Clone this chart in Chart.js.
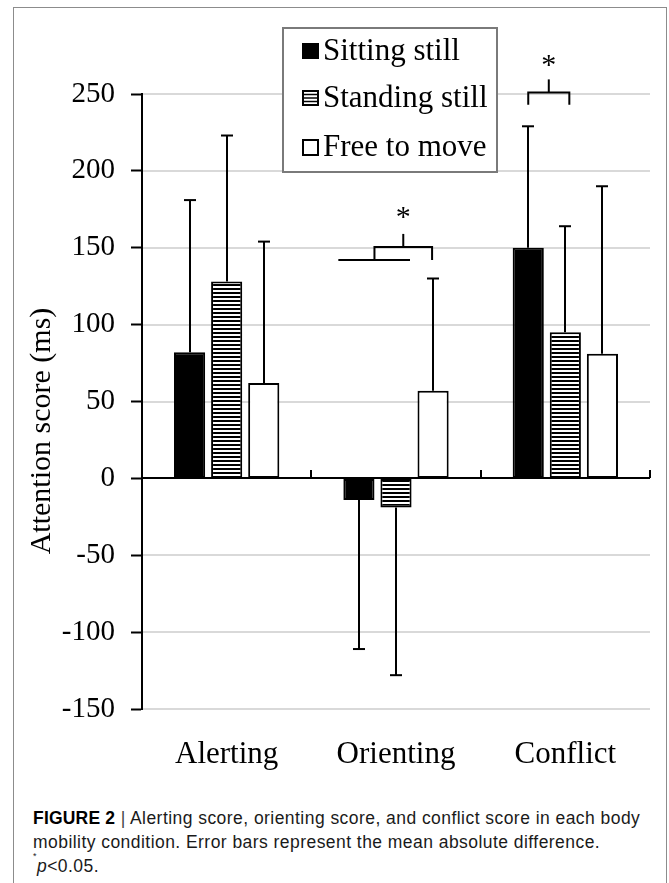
<!DOCTYPE html>
<html><head><meta charset="utf-8">
<script src="https://cdn.jsdelivr.net/npm/chart.js@4"></script>
<style>
html,body{margin:0;padding:0;background:#fff;width:669px;height:883px;overflow:hidden;position:relative}
#frame{position:absolute;left:13px;top:7px;width:654px;height:900px;border:1px solid #8c8c8c;border-bottom:none;box-sizing:border-box}
#wrap{position:absolute;left:0;top:0;width:669px;height:783px}
#cap{position:absolute;left:33px;top:806px;width:630px;font-family:"Liberation Sans",Arial,sans-serif;font-size:17.5px;letter-spacing:0.45px;line-height:24px;color:#1a1a1a;white-space:nowrap}
#cap b{font-weight:bold;color:#000;letter-spacing:0.2px}
#cap .bar{color:#444}
#cap sup{font-size:9px;vertical-align:top;line-height:0;position:relative;top:2px}
</style></head>
<body>
<div id="frame"></div>
<div id="wrap"><canvas id="c" width="669" height="783"></canvas></div>
<div id="cap"><b>FIGURE 2</b> <span class="bar">|</span> Alerting score, orienting score, and conflict score in each body<br>mobility condition. Error bars represent the mean absolute difference.<br><sup>*</sup><i>p</i>&lt;0.05.</div>
<script>
// ---- data ----
const categories = ['Alerting', 'Orienting', 'Conflict'];
const seriesNames = ['Sitting still', 'Standing still', 'Free to move'];
const sittingMean = [82, -14, 150];
const standingMean = [128, -19, 95];
const freeMean = [62, 57, 81];
const sittingErr = [99, 97, 79];
const standingErr = [95, 109, 69];
const freeErr = [92, 73, 109];
const yMin = -150, yMax = 250, yStep = 50;
const yTitle = 'Attention score (ms)';
const sigMark = '*';
// significance bracket levels (data units)
const orientBracket = [142, 150.5, 159, 173];   // lower line, upper line, tick top, star
const conflictBracket = [243, 251, 259.5, 272];  // leg bottom, line, tick top, star

const SERIF = '"Liberation Serif","Times New Roman",serif';
const canvas = document.getElementById('c');
const ctx0 = canvas.getContext('2d');
function stripePattern(){
  const p = document.createElement('canvas'); p.width = 4; p.height = 4;
  const g = p.getContext('2d');
  g.fillStyle = '#fff'; g.fillRect(0,0,4,4);
  g.fillStyle = '#000'; g.fillRect(0,0,4,2);
  return ctx0.createPattern(p, 'repeat');
}
const stripes = stripePattern();
const means = [sittingMean, standingMean, freeMean];
const errs = [sittingErr, standingErr, freeErr];
const fills = ['#000', stripes, '#fff'];

function ln(ctx,x1,y1,x2,y2){ctx.beginPath();ctx.moveTo(x1,y1);ctx.lineTo(x2,y2);ctx.stroke();}

const gridPlugin = {
  id: 'gridPlugin',
  beforeDatasetsDraw(chart){
    const ctx = chart.ctx, ys = chart.scales.y, ca = chart.chartArea;
    ctx.save();
    ctx.strokeStyle = '#d9d9d9'; ctx.lineWidth = 2;
    ys.ticks.forEach(t => {
      const py = Math.round(ys.getPixelForValue(t.value));
      ln(ctx, ca.left + 1, py, ca.right, py);
    });
    ctx.restore();
  }
};

const overlay = {
  id: 'overlay',
  afterDatasetsDraw(chart){
    const ctx = chart.ctx, xs = chart.scales.x, ys = chart.scales.y, ca = chart.chartArea;
    ctx.save();
    ctx.strokeStyle = '#000'; ctx.lineWidth = 2; ctx.lineCap = 'butt';
    // zero line
    const y0 = Math.round(ys.getPixelForValue(0));
    ln(ctx, ca.left, y0, ca.right, y0);
    const half = (xs.getPixelForValue(1) - xs.getPixelForValue(0)) / 2;
    for (let i = 0; i <= categories.length; i++) {
      const px = Math.round(xs.getPixelForValue(0) - half + i * 2 * half);
      ln(ctx, px, y0, px, y0 - 8);
    }
    // error bars
    for (let d = 0; d < 3; d++) {
      const meta = chart.getDatasetMeta(d);
      meta.data.forEach((el, j) => {
        const v = means[d][j];
        const end = v + Math.sign(v) * errs[d][j];
        const ye = ys.getPixelForValue(end);
        const x = Math.round(el.x);
        ln(ctx, x, el.y, x, ye);
        ln(ctx, x - 6, ye, x + 6, ye);
      });
    }
    // brackets
    const m0 = chart.getDatasetMeta(0).data, m1 = chart.getDatasetMeta(1).data, m2 = chart.getDatasetMeta(2).data;
    ctx.font = '30px ' + SERIF; ctx.fillStyle = '#000'; ctx.textAlign = 'center'; ctx.textBaseline = 'alphabetic';
    {
      const s = m0[1], t = m1[1], f = m2[1];
      const yl = ys.getPixelForValue(orientBracket[0]);
      const yu = ys.getPixelForValue(orientBracket[1]);
      const yt = ys.getPixelForValue(orientBracket[2]);
      const ystar = ys.getPixelForValue(orientBracket[3]);
      ln(ctx, s.x - s.width/2 - 5, yl, t.x + 14, yl);
      const xl = (s.x + t.x)/2 - 3, xr = f.x - 1;
      ctx.beginPath(); ctx.moveTo(xl, yl); ctx.lineTo(xl, yu); ctx.lineTo(xr, yu); ctx.lineTo(xr, yl); ctx.stroke();
      const xc = (xl + xr)/2;
      ln(ctx, xc, yu, xc, yt);
      ctx.fillText(sigMark, xc, ystar + 14);
    }
    {
      const s = m0[2], t = m1[2];
      const yb = ys.getPixelForValue(conflictBracket[0]);
      const yu = ys.getPixelForValue(conflictBracket[1]);
      const yt = ys.getPixelForValue(conflictBracket[2]);
      const ystar = ys.getPixelForValue(conflictBracket[3]);
      const xl = s.x, xr = t.x + 4;
      ctx.beginPath(); ctx.moveTo(xl, yb); ctx.lineTo(xl, yu); ctx.lineTo(xr, yu); ctx.lineTo(xr, yb); ctx.stroke();
      const xc = (xl + xr)/2;
      ln(ctx, xc, yu, xc, yt);
      ctx.fillText(sigMark, xc, ystar + 14);
    }
    // legend
    ctx.fillStyle = '#fff'; ctx.fillRect(283, 28, 214, 144);
    ctx.strokeStyle = '#7a7a7a'; ctx.lineWidth = 2;
    ctx.strokeRect(283, 28, 214, 144);
    const rows = [51, 98, 147];
    ctx.font = '31px ' + SERIF; ctx.textAlign = 'left'; ctx.textBaseline = 'middle';
    rows.forEach((ry, i) => {
      ctx.strokeStyle = '#000'; ctx.lineWidth = 2;
      if (i === 0) { ctx.fillStyle = '#000'; ctx.fillRect(302, ry - 8, 17, 16); }
      else if (i === 1) {
        ctx.strokeRect(303, ry - 7, 15, 14);
        ctx.lineWidth = 1.5;
        for (let k = 1; k <= 3; k++) ln(ctx, 304, ry - 7 + k * 3.5, 317, ry - 7 + k * 3.5);
      } else {
        ctx.fillStyle = '#fff'; ctx.fillRect(303, ry - 7, 15, 15); ctx.strokeRect(303, ry - 7, 15, 15);
      }
      ctx.fillStyle = '#000';
      ctx.fillText(seriesNames[i], 323, ry + 1);
    });
    // y title
    ctx.save();
    ctx.translate(42, 431); ctx.rotate(-Math.PI/2);
    ctx.textAlign = 'center'; ctx.textBaseline = 'middle'; ctx.font = '30px ' + SERIF;
    ctx.fillText(yTitle, 0, 0);
    ctx.restore();
    ctx.restore();
  }
};

new Chart(canvas, {
  type: 'bar',
  data: {
    labels: categories,
    datasets: seriesNames.map((n, i) => ({
      label: n, data: means[i], backgroundColor: fills[i], borderColor: '#000', borderWidth: 2,
      borderSkipped: false, categoryPercentage: 0.657, barPercentage: 0.84
    }))
  },
  options: {
    responsive: false, animation: false, devicePixelRatio: 1,
    layout: { padding: { top: 94, right: 19, left: 0, bottom: 0 } },
    plugins: { legend: { display: false }, tooltip: { enabled: false } },
    scales: {
      x: {
        grid: { display: false }, border: { display: false },
        ticks: { color: '#000', font: { family: SERIF, size: 31 }, padding: 19 },
        afterFit(s) { s.height = 74; }
      },
      y: {
        min: yMin, max: yMax,
        ticks: { stepSize: yStep, color: '#000', font: { family: SERIF, size: 29 }, padding: 16 },
        grid: { drawOnChartArea: false, tickColor: '#000', tickLength: 11, tickWidth: 2 },
        border: { color: '#000', width: 2 },
        afterFit(s) { s.width = 142; }
      }
    }
  },
  plugins: [gridPlugin, overlay]
});
</script>
</body></html>
